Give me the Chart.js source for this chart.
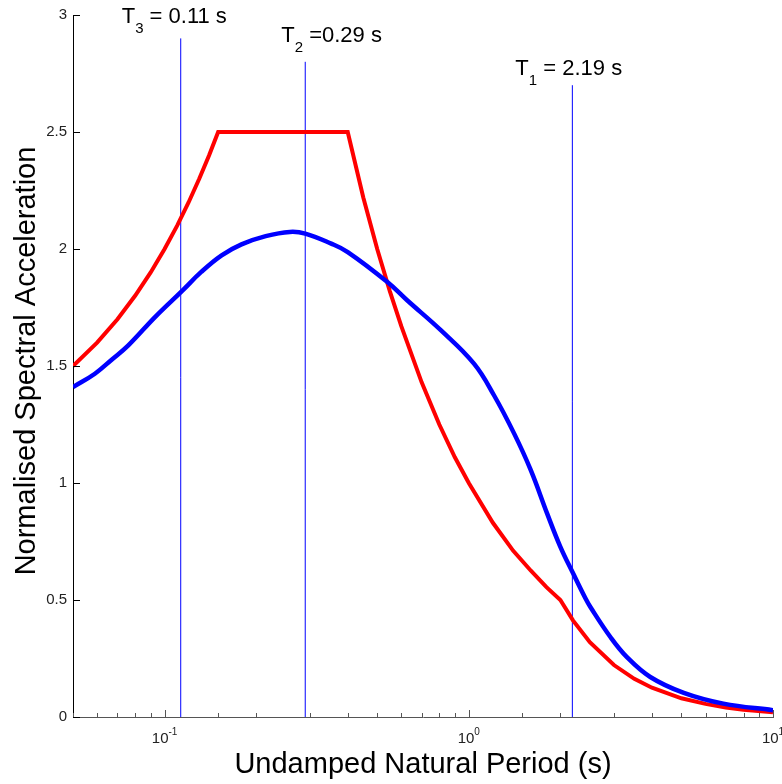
<!DOCTYPE html>
<html>
<head>
<meta charset="utf-8">
<script src="https://cdn.jsdelivr.net/npm/chart.js@4.4.1/dist/chart.umd.min.js"></script>
<style>
  body { margin: 0; background: #fff; }
  #wrap { width: 782px; height: 784px; }
</style>
</head>
<body>
<div id="wrap"><canvas id="spectrum" width="782" height="784"></canvas></div>
<script>
// design (code) spectrum
const codePeriods = [0.05, 0.06, 0.07, 0.08, 0.09, 0.10, 0.11, 0.12, 0.13, 0.14, 0.15, 0.40, 0.45, 0.50, 0.55, 0.60, 0.70, 0.80, 0.90, 1.0, 1.2, 1.4, 1.6, 1.8, 2.0, 2.2, 2.5, 3.0, 3.5, 4.0, 5.0, 6.0, 7.0, 8.0, 10.0];
const codeSa = [1.50, 1.60, 1.70, 1.80, 1.90, 2.00, 2.10, 2.20, 2.30, 2.40, 2.50, 2.50, 2.22, 2.00, 1.82, 1.67, 1.43, 1.25, 1.11, 1.00, 0.83, 0.71, 0.625, 0.555, 0.50, 0.413, 0.32, 0.222, 0.163, 0.125, 0.08, 0.056, 0.041, 0.031, 0.02];

// record spectrum (blue)
const recordPeriods = [0.05, 0.059, 0.067, 0.076, 0.093, 0.114, 0.132, 0.154, 0.179, 0.215, 0.258, 0.29, 0.353, 0.40, 0.54, 0.627, 0.809, 1.04, 1.21, 1.41, 1.60, 1.81, 2.0, 2.2, 2.42, 2.51, 2.92, 3.31, 3.95, 5.09, 6.87, 10.0];
const recordSa = [1.41, 1.467, 1.527, 1.588, 1.709, 1.82, 1.902, 1.973, 2.02, 2.055, 2.073, 2.066, 2.023, 1.987, 1.859, 1.781, 1.653, 1.51, 1.375, 1.211, 1.054, 0.869, 0.727, 0.615, 0.506, 0.47, 0.342, 0.256, 0.171, 0.103, 0.057, 0.029];

// modal periods marked with vertical lines
const modeNumbers = ['3', '2', '1'];
const modalPeriods = [0.113, 0.29, 2.19];
const modeLineTops = [2.9, 2.8, 2.7];
const modeTexts = [' = 0.11 s', ' =0.29 s', ' = 2.19 s'];

const yTicks = [0, 0.5, 1, 1.5, 2, 2.5, 3];

const FONT = '"Liberation Sans", Arial, sans-serif';
// label offsets from the top of each mode line (px)
const labelOffsets = [[-59, -15], [-24, -19.5], [-57, -10]];

const toPoints = (xs, ys) => xs.map((x, i) => ({ x: x, y: ys[i] }));

const decorations = {
    id: 'decorations',
    afterDraw(chart) {
        const ctx = chart.ctx;
        const xs = chart.scales.x, ys = chart.scales.y;
        const area = chart.chartArea;
        ctx.save();

        // inward ticks
        ctx.strokeStyle = '#555';
        ctx.lineWidth = 1;
        ctx.beginPath();
        xs.ticks.forEach(t => {
            const lg = Math.log10(t.value);
            const major = Math.abs(lg - Math.round(lg)) < 1e-6;
            const px = Math.round(xs.getPixelForValue(t.value)) + 0.5;
            ctx.moveTo(px, area.bottom);
            ctx.lineTo(px, area.bottom - (major ? 7 : 4));
        });
        ctx.stroke();
        ctx.strokeStyle = '#000';
        ctx.beginPath();
        yTicks.forEach(v => {
            const py = Math.round(ys.getPixelForValue(v)) + 0.5;
            ctx.moveTo(area.left, py);
            ctx.lineTo(area.left + 7, py);
        });
        ctx.stroke();

        // x tick labels 10^n
        ctx.fillStyle = '#222';
        ctx.textBaseline = 'alphabetic';
        ctx.textAlign = 'left';
        xs.ticks.forEach(t => {
            const lg = Math.log10(t.value);
            if (Math.abs(lg - Math.round(lg)) > 1e-6) return;
            const ex = String(Math.round(lg));
            ctx.font = '15px ' + FONT;
            const wb = ctx.measureText('10').width;
            ctx.font = '10px ' + FONT;
            const we = ctx.measureText(ex).width;
            const x0 = xs.getPixelForValue(t.value) - (wb + we) / 2;
            ctx.font = '15px ' + FONT;
            ctx.fillText('10', x0, area.bottom + 26);
            ctx.font = '10px ' + FONT;
            ctx.fillText(ex, x0 + wb, area.bottom + 18);
        });

        // mode labels
        ctx.fillStyle = '#000';
        modalPeriods.forEach((p, i) => {
            let x = xs.getPixelForValue(p) + labelOffsets[i][0];
            const y = ys.getPixelForValue(modeLineTops[i]) + labelOffsets[i][1];
            ctx.font = '22px ' + FONT;
            ctx.fillText('T', x, y);
            x += ctx.measureText('T').width;
            ctx.font = '15px ' + FONT;
            ctx.fillText(modeNumbers[i], x, y + 10);
            x += ctx.measureText(modeNumbers[i]).width;
            ctx.font = '22px ' + FONT;
            ctx.fillText(modeTexts[i], x, y);
        });

        // axis titles
        ctx.font = '29px ' + FONT;
        ctx.textAlign = 'center';
        ctx.fillText('Undamped Natural Period (s)', (area.left + area.right) / 2, 773);
        ctx.save();
        ctx.translate(35, (area.top + area.bottom) / 2 - 5);
        ctx.rotate(-Math.PI / 2);
        ctx.fillText('Normalised Spectral Acceleration', 0, 0);
        ctx.restore();

        ctx.restore();
    }
};

const datasets = [
    {
        label: 'Record',
        data: toPoints(recordPeriods, recordSa),
        borderColor: '#0000ff',
        borderWidth: 4.5,
        pointRadius: 0,
        tension: 0.4
    },
    {
        label: 'Code',
        data: toPoints(codePeriods, codeSa),
        borderColor: '#ff0000',
        borderWidth: 4,
        pointRadius: 0,
        tension: 0
    }
];
modalPeriods.forEach((p, i) => {
    datasets.push({
        label: 'T' + modeNumbers[i],
        data: [{ x: p, y: 0 }, { x: p, y: modeLineTops[i] }],
        borderColor: '#0000ff',
        borderWidth: 1,
        pointRadius: 0
    });
});

new Chart(document.getElementById('spectrum'), {
    type: 'line',
    data: { datasets: datasets },
    options: {
        responsive: false,
        animation: false,
        layout: { padding: { top: 15, right: 9, left: 0, bottom: 0 } },
        plugins: { legend: { display: false }, tooltip: { enabled: false } },
        scales: {
            x: {
                type: 'logarithmic',
                min: 0.05,
                max: 10,
                border: { color: '#555' },
                grid: { display: false, drawTicks: false },
                ticks: { display: false },
                afterFit(s) { s.height = 67; }
            },
            y: {
                min: 0,
                max: 3,
                border: { color: '#000' },
                grid: { display: false, drawTicks: false },
                ticks: {
                    stepSize: 0.5,
                    color: '#222',
                    padding: 6,
                    font: { family: FONT, size: 15 },
                    callback: v => String(v)
                },
                afterFit(s) { s.width = 73; }
            }
        }
    },
    plugins: [decorations]
});
</script>
</body>
</html>
